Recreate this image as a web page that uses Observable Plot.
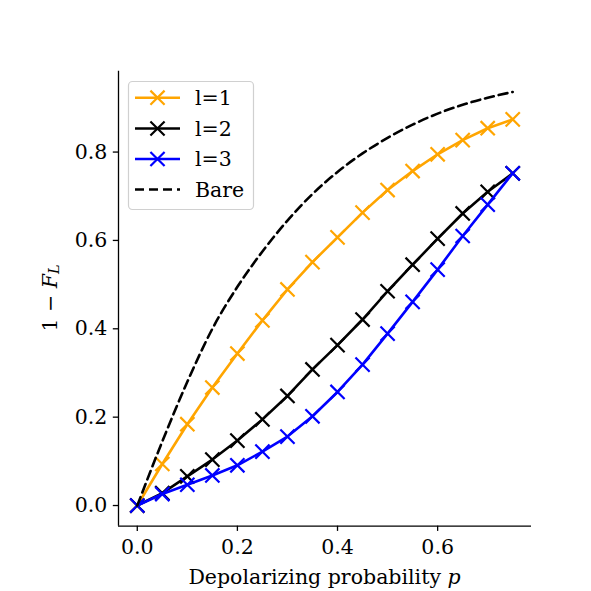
<!DOCTYPE html>
<html>
<head>
<meta charset="utf-8">
<script src="https://cdn.jsdelivr.net/npm/d3@7"></script>
<script src="https://cdn.jsdelivr.net/npm/@observablehq/plot@0.6"></script>
<style>
  html, body { margin: 0; padding: 0; background: #fff; }
  svg text { font-family: "DejaVu Serif", serif; }
</style>
</head>
<body>
<div id="chart"></div>
<script>
// Depolarizing probability p (sample points)
const pValues = [0, 0.05, 0.10, 0.15, 0.20, 0.25, 0.30, 0.35, 0.40, 0.45, 0.50, 0.55, 0.60, 0.65, 0.70, 0.75];

// Logical infidelity 1 - F_L for each level l
const level1 = [0, 0.094, 0.184, 0.267, 0.344, 0.419, 0.489, 0.551, 0.607, 0.663, 0.714, 0.757, 0.795, 0.827, 0.854, 0.874];
const level2 = [0, 0.028, 0.066, 0.104, 0.147, 0.195, 0.248, 0.308, 0.363, 0.421, 0.485, 0.545, 0.604, 0.661, 0.710, 0.752];
const level3 = [0, 0.026, 0.047, 0.068, 0.091, 0.122, 0.156, 0.202, 0.257, 0.319, 0.389, 0.461, 0.534, 0.610, 0.681, 0.752];
// Unencoded ("bare") infidelity
const bare   = [0, 0.145, 0.280, 0.400, 0.495, 0.575, 0.645, 0.705, 0.755, 0.797, 0.832, 0.862, 0.887, 0.907, 0.923, 0.936];

const seriesNames  = ["l=1", "l=2", "l=3", "Bare"];
const seriesColors = ["#ffa500", "#000000", "#0000ff", "#000000"];

const xTicks = [0, 0.2, 0.4, 0.6];
const yTicks = [0, 0.2, 0.4, 0.6, 0.8];

const xLabel = "Depolarizing probability ";

// rows for each series
const toRows = (vals, name) => vals.map((v, i) => ({p: pValues[i], v, name}));
const levels = [level1, level2, level3].map((vals, i) => ({rows: toRows(vals, seriesNames[i]), color: seriesColors[i]}));
const bareRows = toRows(bare, seriesNames[3]);

// 5% padding around the data range on both axes
const allVals = [...level1, ...level2, ...level3, ...bare];
const pad = (lo, hi) => [lo - 0.05 * (hi - lo), hi + 0.05 * (hi - lo)];
const xDom = pad(d3.min(pValues), d3.max(pValues));
const yDom = pad(d3.min(allVals), d3.max(allVals));

const FS = 20.5;
const lineW = 2.6;
const dash = "9,5";

const marks = [
  Plot.ruleX([xDom[0]], {stroke: "black", strokeWidth: 1.3}),
  Plot.ruleY([yDom[0]], {stroke: "black", strokeWidth: 1.3}),
  Plot.axisX({ticks: xTicks, tickFormat: d3.format(".1f"), tickSize: 5.2, tickPadding: 8, label: null, strokeWidth: 1.3, fontSize: FS}),
  Plot.axisY({ticks: yTicks, tickFormat: d3.format(".1f"), tickSize: 5.2, tickPadding: 6, label: null, strokeWidth: 1.3, fontSize: FS})
];
for (const s of levels) {
  marks.push(Plot.line(s.rows, {x: "p", y: "v", stroke: s.color, strokeWidth: lineW}));
  marks.push(Plot.dot(s.rows, {x: "p", y: "v", symbol: "times", r: 6.5, stroke: s.color, strokeWidth: 2.2}));
}
marks.push(Plot.line(bareRows, {x: "p", y: "v", stroke: "black", strokeWidth: lineW, strokeDasharray: dash, curve: "monotone-x"}));

const chart = Plot.plot({
  width: 591,
  height: 591,
  marginLeft: 118,
  marginRight: 60,
  marginTop: 70.8,
  marginBottom: 65.3,
  x: {domain: xDom},
  y: {domain: yDom},
  style: {fontFamily: "DejaVu Serif", fontSize: FS + "px", background: "white", color: "black", overflow: "visible"},
  marks
});
document.getElementById("chart").append(chart);

const svg = d3.select(chart);

// x-axis title with italic p
const xt = svg.append("text")
  .attr("x", (118 + 531) / 2).attr("y", 577)
  .attr("text-anchor", "middle").attr("dominant-baseline", "central")
  .attr("font-size", FS).attr("fill", "black");
xt.append("tspan").text(xLabel);
xt.append("tspan").attr("font-style", "italic").text("p");

// y-axis title: 1 − F_L
const yt = svg.append("text")
  .attr("transform", "translate(50,298) rotate(-90)")
  .attr("text-anchor", "middle").attr("dominant-baseline", "central")
  .attr("font-size", FS).attr("fill", "black");
yt.append("tspan").text("1 − ");
yt.append("tspan").attr("font-style", "italic").text("F");
yt.append("tspan").attr("font-style", "italic").attr("font-size", FS * 0.7).attr("dy", "0.3em").text("L");

// legend
const lg = svg.append("g");
lg.append("rect")
  .attr("x", 128.5).attr("y", 81.5).attr("width", 125).attr("height", 128).attr("rx", 4)
  .attr("fill", "white").attr("fill-opacity", 0.8).attr("stroke", "#d0d0d0").attr("stroke-width", 1.2);
const rowY = [97.7, 128.5, 159, 189.5];
const times = d3.symbol(d3.symbolTimes, Math.PI * 6.5 * 6.5);
seriesNames.forEach((name, i) => {
  const y = rowY[i];
  const isBare = i === 3;
  lg.append("line")
    .attr("x1", 135).attr("x2", 180).attr("y1", y).attr("y2", y)
    .attr("stroke", seriesColors[i]).attr("stroke-width", lineW)
    .attr("stroke-dasharray", isBare ? dash : null);
  if (!isBare) {
    lg.append("path").attr("d", times()).attr("transform", `translate(157.5,${y})`)
      .attr("fill", "none").attr("stroke", seriesColors[i]).attr("stroke-width", 2.2);
  }
  lg.append("text").attr("x", 195).attr("y", y).attr("text-anchor", "start").attr("dominant-baseline", "central")
    .attr("font-size", FS).attr("fill", "black").text(name);
});
</script>
</body>
</html>
